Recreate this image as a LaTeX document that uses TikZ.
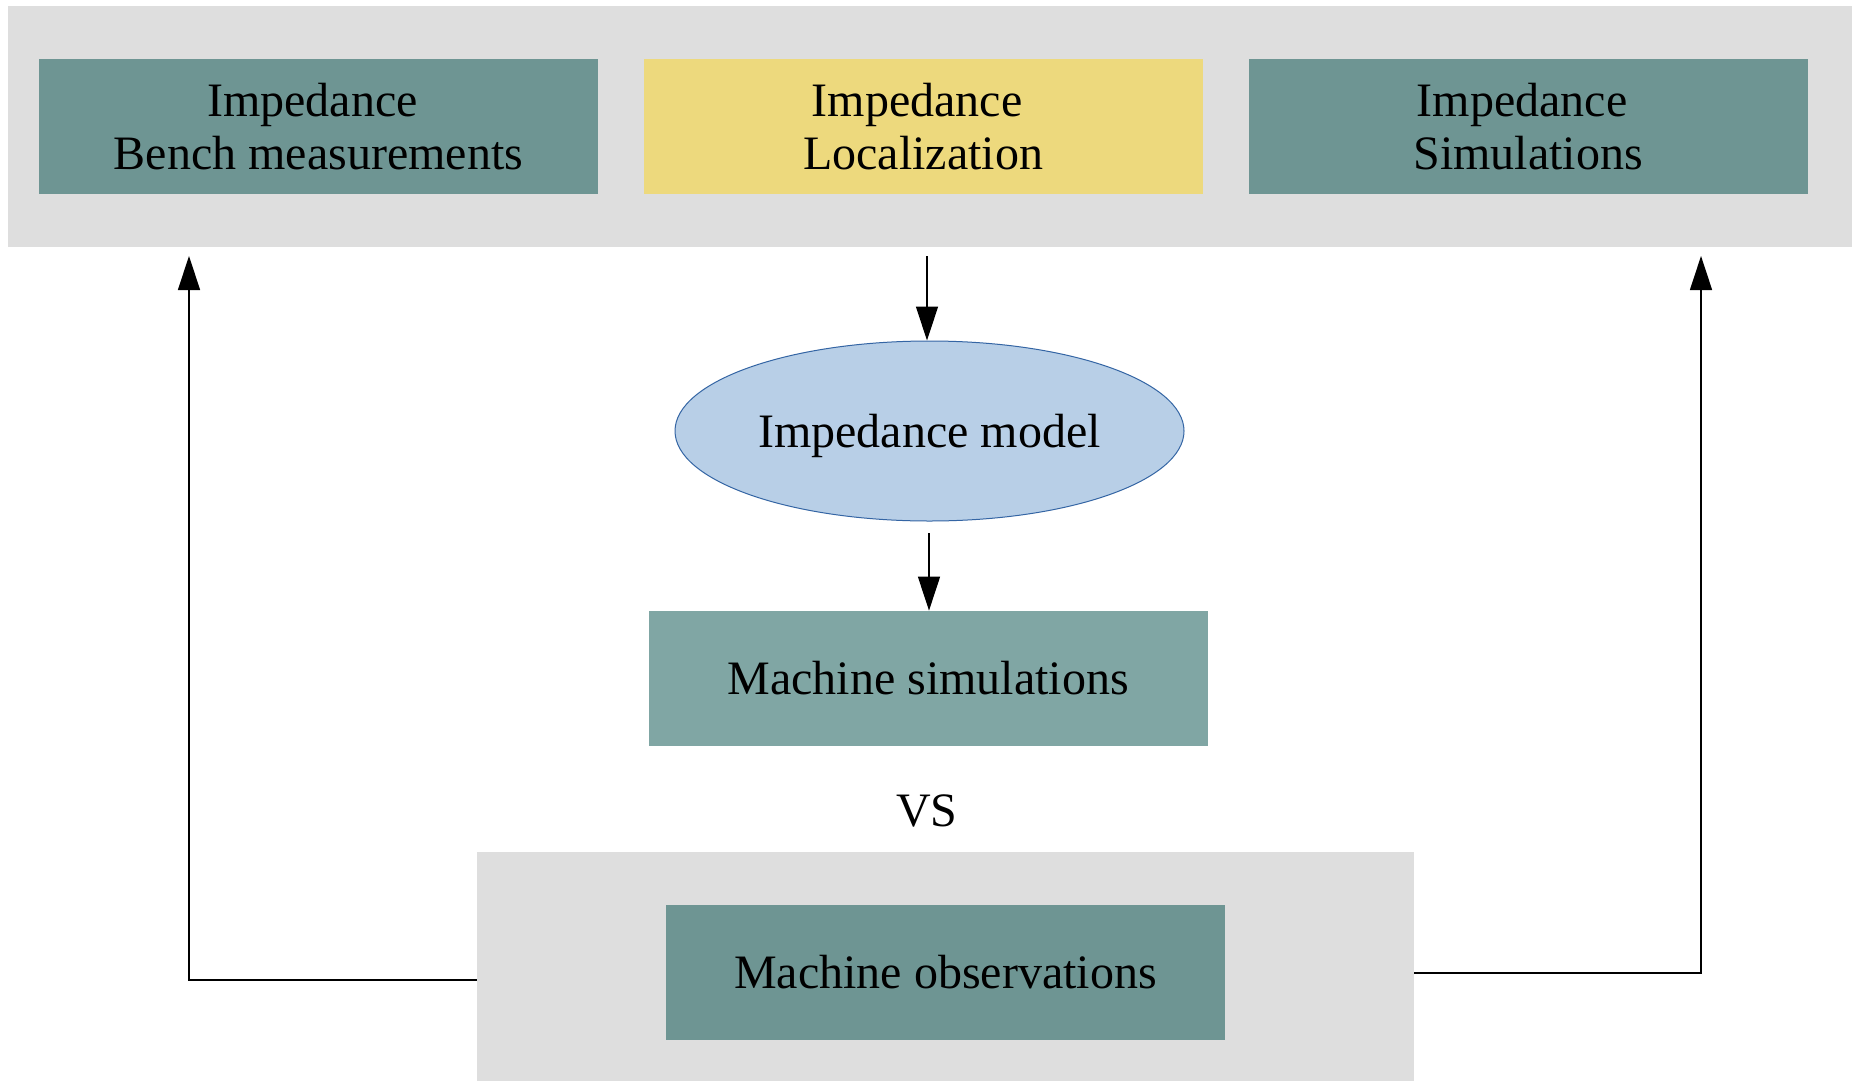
\documentclass[tikz,border=0pt]{standalone}
\usepackage{fontspec}
\setmainfont{Liberation Serif}
\usetikzlibrary{arrows.meta,shapes.geometric}
\definecolor{bandgray}{HTML}{DEDEDE}
\definecolor{tealbox}{HTML}{6E9593}
\definecolor{teallight}{HTML}{80A6A4}
\definecolor{yelbox}{HTML}{EDD97D}
\definecolor{ellfill}{HTML}{B8CFE7}
\definecolor{elldraw}{HTML}{3465A4}
\tikzset{
  band/.style={fill=bandgray, draw=none, inner sep=0pt},
  card/.style={draw=none, inner sep=0pt, minimum width=279.5pt, minimum height=67.5pt,
    align=center, font=\fontsize{24}{26.5}\selectfont},
  arr/.style={-{Triangle[length=17pt,width=11pt]}, line width=0.7pt, black},
}
\newcommand{\trail}{\hspace*{6pt}}
\begin{document}
\begin{tikzpicture}[x=0.5pt,y=-0.5pt]
\useasboundingbox (0,0) rectangle (1856,1081);
\fill[white] (0,0) rectangle (1856,1081);
% top band
\node[band, minimum width=922pt, minimum height=120.5pt] (top) at (930,126.5) {};
\node[card, fill=tealbox] (bench) at (318.5,126.5) {Impedance\trail\\Bench measurements};
\node[card, fill=yelbox] (loc) at (923,126.5) {Impedance\trail\\Localization};
\node[card, fill=tealbox] (sim) at (1528,126.5) {Impedance\trail\\Simulations};
% ellipse
\node[ellipse, fill=ellfill, draw=elldraw, line width=0.5pt, minimum width=254.5pt, minimum height=90pt,
  inner sep=0pt, text depth=0pt, font=\fontsize{24}{26.5}\selectfont] (model) at (929.5,431) {Impedance model};
% machine simulations
\node[card, fill=teallight] (msim) at (928,678.5) {Machine simulations};
% VS
\node[anchor=base, inner sep=0pt, font=\fontsize{24}{26.5}\selectfont] (vs) at (927,826) {VS};
% bottom band
\node[band, minimum width=468.5pt, minimum height=114.5pt] (bot) at (945.5,966.5) {};
\node[card, fill=tealbox] (mobs) at (945.5,972.5) {Machine observations};
% arrows
\coordinate (a1) at (927,256);
\draw[arr] (a1) -- (a1 |- model.north);
\coordinate (a2) at (929,533);
\draw[arr] (a2) -- (a2 |- msim.north);
\coordinate (lt) at (189,256);
\coordinate (rt) at (1701,256);
\draw[arr] (bot.west |- 0,980) -| (lt);
\draw[arr] (bot.east |- 0,973) -| (rt);
\end{tikzpicture}
\end{document}
